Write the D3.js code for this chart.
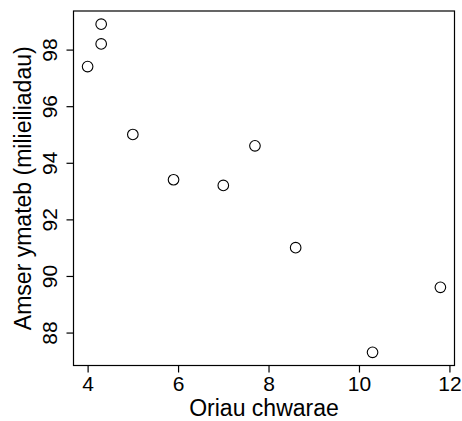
<!DOCTYPE html>
<html>
<head>
<meta charset="utf-8">
<script src="https://cdn.jsdelivr.net/npm/d3@7"></script>
<style>
    body{ margin:0; background:white; }
    text{ font-family: "Liberation Sans", Arial, sans-serif; fill:black; }
</style>
</head>
<body>
<div id="graph"></div>
<script>
//Data
const play_hours = [4, 4.3, 4.3, 5, 5.9, 7, 7.7, 8.6, 10.3, 11.8];
const reaction_ms = [97.4, 98.9, 98.2, 95, 93.4, 93.2, 94.6, 91, 87.3, 89.6];
const x_ticks = [4, 6, 8, 10, 12];
const y_ticks = [88, 90, 92, 94, 96, 98];
const x_title = "Oriau chwarae";
const y_title = "Amser ymateb (milieiliadau)";

const width = 462;
const height = 421;
//plot box edges
const box = {left: 73.5, right: 454.5, top: 11, bottom: 365.5};

//R style range: data extent padded 4% each side
function padded(values){
    let lo = d3.min(values);
    let hi = d3.max(values);
    let pad = (hi - lo) * 0.04;
    return [lo - pad, hi + pad];
}

const svg = d3.select('#graph')
              .append('svg')
              .attr('width', width)
              .attr('height', height);

const x = d3.scaleLinear()
            .domain(padded(play_hours))
            .range([box.left, box.right]);

const y = d3.scaleLinear()
            .domain(padded(reaction_ms))
            .range([box.bottom, box.top]);

//the frame round the plot
svg.append('rect')
   .attr('x', box.left)
   .attr('y', box.top)
   .attr('width', box.right - box.left)
   .attr('height', box.bottom - box.top)
   .attr('fill', 'none')
   .attr('stroke', 'black')
   .attr('stroke-width', 1.2);

//x axis
const x_axis = svg.append('g')
                  .attr('transform', `translate(0,${box.bottom})`)
                  .call(d3.axisBottom(x).tickValues(x_ticks).tickSize(7).tickPadding(4).tickFormat(d3.format('d')));
x_axis.select('.domain').remove();
x_axis.selectAll('text')
      .style('font-size', '21px')
      .style('font-family', '"Liberation Sans", Arial, sans-serif');

//y axis, labels turned like in R
const y_axis = svg.append('g')
                  .attr('transform', `translate(${box.left},0)`)
                  .call(d3.axisLeft(y).tickValues(y_ticks).tickSize(7).tickFormat(d3.format('d')));
y_axis.select('.domain').remove();
y_axis.selectAll('text')
      .attr('x', 0)
      .attr('dy', 0)
      .attr('text-anchor', 'middle')
      .attr('transform', 'translate(-17,0) rotate(-90)')
      .style('font-size', '21px')
      .style('font-family', '"Liberation Sans", Arial, sans-serif');
svg.selectAll('.tick line').attr('stroke', 'black').attr('stroke-width', 1.2);

//axis titles
svg.append('text')
   .text(x_title)
   .attr('text-anchor', 'middle')
   .attr('x', (box.left + box.right) / 2)
   .attr('y', 416)
   .style('font-size', '23px');

svg.append('text')
   .text(y_title)
   .attr('text-anchor', 'middle')
   .attr('transform', `translate(31,${(box.top + box.bottom) / 2}) rotate(-90)`)
   .style('font-size', '23px');

//the points as open circles
svg.append('g')
   .selectAll('circle')
   .data(play_hours)
   .enter()
   .append('circle')
   .attr('cx', (d) => x(d))
   .attr('cy', (d, i) => y(reaction_ms[i]))
   .attr('r', 5.3)
   .attr('fill', 'none')
   .attr('stroke', 'black')
   .attr('stroke-width', 1.1);
</script>
</body>
</html>
